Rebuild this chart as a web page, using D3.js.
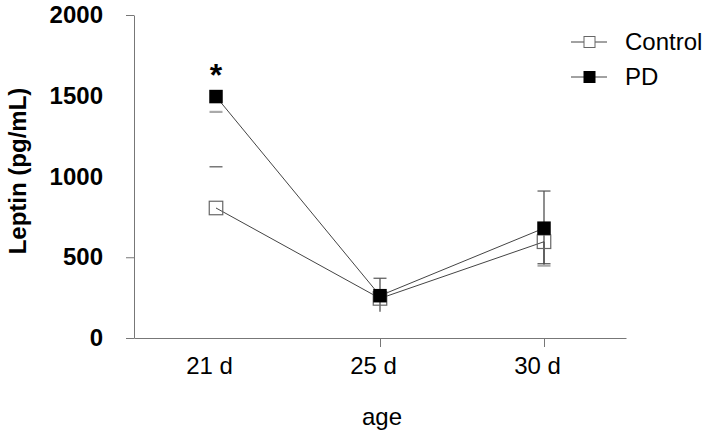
<!DOCTYPE html>
<html>
<head>
<meta charset="utf-8">
<script src="https://cdn.jsdelivr.net/npm/d3@7"></script>
<style>
  html, body { margin: 0; padding: 0; background: #fff; }
  svg { display: block; font-family: Arial, "Liberation Sans", sans-serif; }
</style>
</head>
<body>
<div id="chart"></div>
<script>
// values
const ages = ['21 d', '25 d', '30 d'];
const yTicks = [0, 500, 1000, 1500, 2000];
const controlMean = [805, 245, 596];
const pdMean = [1495, 262, 680];
// error bar ends (null = not visible in the figure)
const controlLow = [null, 163, 460];
const controlHigh = [1060, null, null];
const pdLow = [1400, null, 448];
const pdHigh = [null, 370, 910];

const width = 712, height = 438;
const svg = d3.select('#chart').append('svg')
    .attr('width', width)
    .attr('height', height);

const x = d3.scalePoint().domain(ages).range([134, 626]).padding(0.5);
const y = d3.scaleLinear().domain([0, 2000]).range([338, 15]);

const axisColor = '#777';

// y axis
const yAxis = svg.append('g')
    .attr('transform', 'translate(134,0)')
    .call(d3.axisLeft(y).tickValues(yTicks).tickFormat(d3.format('d'))
        .tickSize(8).tickSizeOuter(0).tickPadding(23));
yAxis.select('.domain').attr('stroke', axisColor);
yAxis.selectAll('.tick line')
    .attr('stroke', axisColor)
    .attr('opacity', d => (d === 1000 || d === 1500) ? 0 : 1);
yAxis.selectAll('.tick text')
    .attr('font-size', 24)
    .attr('font-weight', 'bold')
    .attr('fill', '#000')
    .attr('font-family', 'Arial, "Liberation Sans", sans-serif');

// x axis
const xAxis = svg.append('g')
    .attr('transform', 'translate(0,338)')
    .call(d3.axisBottom(x).tickSize(9).tickSizeOuter(0).tickPadding(27));
xAxis.select('.domain').attr('stroke', axisColor);
xAxis.selectAll('.tick line')
    .attr('stroke', axisColor)
    .attr('opacity', (d, i) => i === 0 ? 0 : 1);
xAxis.selectAll('.tick text')
    .attr('font-size', 24)
    .attr('fill', '#000')
    .attr('dx', -7)
    .attr('dy', 0)
    .attr('font-family', 'Arial, "Liberation Sans", sans-serif');

// axis titles
svg.append('text')
    .attr('transform', 'translate(26,171) rotate(-90)')
    .attr('text-anchor', 'middle')
    .attr('font-size', 24)
    .attr('font-weight', 'bold')
    .text('Leptin (pg/mL)');

svg.append('text')
    .attr('x', 382)
    .attr('y', 425)
    .attr('text-anchor', 'middle')
    .attr('font-size', 24)
    .text('age');

const lineColor = '#444';
const line = d3.line().x((d, i) => x(ages[i])).y(d => y(d));

svg.append('path')
    .datum(controlMean)
    .attr('d', line)
    .attr('fill', 'none')
    .attr('stroke', lineColor)
    .attr('stroke-width', 1);

svg.append('path')
    .datum(pdMean)
    .attr('d', line)
    .attr('fill', 'none')
    .attr('stroke', lineColor)
    .attr('stroke-width', 1);

// error bars
const capW = 13;
function drawErrors(mean, low, high, lowCapColor, noCapLow) {
    ages.forEach((a, i) => {
        const cx = x(a);
        const stem = i > 0;
        [[low[i], true], [high[i], false]].forEach(([v, isLow]) => {
            if (v == null) return;
            if (stem) {
                svg.append('line')
                    .attr('x1', cx).attr('x2', cx)
                    .attr('y1', y(mean[i])).attr('y2', y(v))
                    .attr('stroke', '#444').attr('stroke-width', 1.2);
            }
            if (isLow && noCapLow(i)) return;
            svg.append('line')
                .attr('x1', cx - capW / 2).attr('x2', cx + capW / 2)
                .attr('y1', y(v)).attr('y2', y(v))
                .attr('stroke', isLow ? lowCapColor : '#555')
                .attr('stroke-width', isLow && lowCapColor !== '#555' ? 2.2 : 1.2);
        });
    });
}
drawErrors(controlMean, controlLow, controlHigh, '#555', i => i === 1);
drawErrors(pdMean, pdLow, pdHigh, '#aaa', () => false);

// markers
const mk = 13.5;
svg.selectAll('.ctl')
    .data(controlMean)
    .enter().append('rect')
    .attr('x', (d, i) => x(ages[i]) - mk / 2)
    .attr('y', d => y(d) - mk / 2)
    .attr('width', mk).attr('height', mk)
    .attr('fill', 'none')
    .attr('stroke', '#666')
    .attr('stroke-width', 1.2);

svg.selectAll('.pd')
    .data(pdMean)
    .enter().append('rect')
    .attr('x', (d, i) => x(ages[i]) - mk / 2)
    .attr('y', d => y(d) - mk / 2)
    .attr('width', mk).attr('height', mk)
    .attr('fill', '#000');

// significance mark
svg.append('text')
    .attr('x', x(ages[0]))
    .attr('y', 86)
    .attr('text-anchor', 'middle')
    .attr('font-size', 32)
    .attr('font-weight', 'bold')
    .text('*');

// legend
const legend = [
    { name: 'Control', fill: 'none', stroke: '#666', cy: 42 },
    { name: 'PD', fill: '#000', stroke: '#000', cy: 77 }
];
const lg = svg.selectAll('.lg').data(legend).enter().append('g');
lg.append('line')
    .attr('x1', 571).attr('x2', 607)
    .attr('y1', d => d.cy).attr('y2', d => d.cy)
    .attr('stroke', '#444').attr('stroke-width', 1);
lg.append('rect')
    .attr('x', 584).attr('y', d => d.cy - 5.5)
    .attr('width', 11).attr('height', 11)
    .attr('fill', d => d.fill === 'none' ? '#fff' : d.fill)
    .attr('stroke', d => d.stroke)
    .attr('stroke-width', 1);
lg.append('text')
    .attr('x', 625)
    .attr('y', d => d.cy + 8)
    .attr('font-size', 24)
    .text(d => d.name);
</script>
</body>
</html>
